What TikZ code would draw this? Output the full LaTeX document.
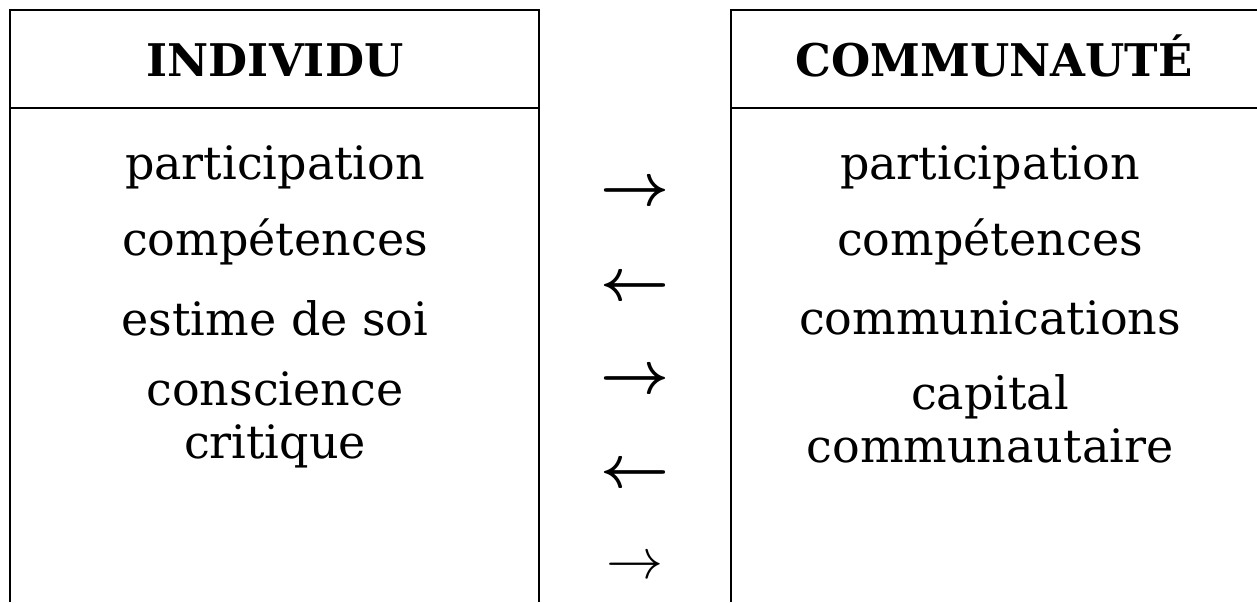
\documentclass[tikz,border=0pt]{standalone}
\usepackage{fontspec}
\usepackage{graphicx}
\setmainfont{DejaVu Serif}
\begin{document}
\begin{tikzpicture}[x=1pt,y=-1pt,
  frame/.style={line width=2.4pt,black},
  head/.style={font=\fontsize{45}{54}\selectfont\bfseries,anchor=base,inner sep=0pt},
  body/.style={font=\fontsize{46}{53}\selectfont,anchor=center,align=center,inner sep=0pt},
  arr/.style={anchor=center,inner sep=0pt}]
\useasboundingbox (0,0) rectangle (1257,602);
% boxes
\draw[frame] (10,602) -- (10,10) -- (539,10) -- (539,602);
\draw[frame] (10,108) -- (539,108);
\draw[frame] (731,602) -- (731,10) -- (1260,10);
\draw[frame] (731,108) -- (1260,108);
% headers
\node[head] (hl) at (275,76) {INDIVIDU};
\node[head] (hr) at (994,76) {COMMUNAUTÉ};
% left body
\node[body] (l1) at (275,167) {participation};
\node[body] (l2) at (275,242) {compétences};
\node[body] (l3) at (275,318) {estime de soi};
\node[body] (l4) at (275,420) {conscience\\critique};
% right body
\node[body] (r1) at (990,167) {participation};
\node[body] (r2) at (990,242) {compétences};
\node[body] (r3) at (990,318) {communications};
\node[body] (r4) at (990,419) {capital\\communautaire};
% arrows
\node[arr] (a1) at (635,194) {\scalebox{6}{\boldmath$\rightarrow$}};
\node[arr] (a2) at (635,289) {\scalebox{6}{\boldmath$\leftarrow$}};
\node[arr] (a3) at (635,382) {\scalebox{6}{\boldmath$\rightarrow$}};
\node[arr] (a4) at (635,476) {\scalebox{6}{\boldmath$\leftarrow$}};
\node[arr] (a5) at (635,568) {\scalebox{5.7}{$\rightarrow$}};
\end{tikzpicture}
\end{document}
